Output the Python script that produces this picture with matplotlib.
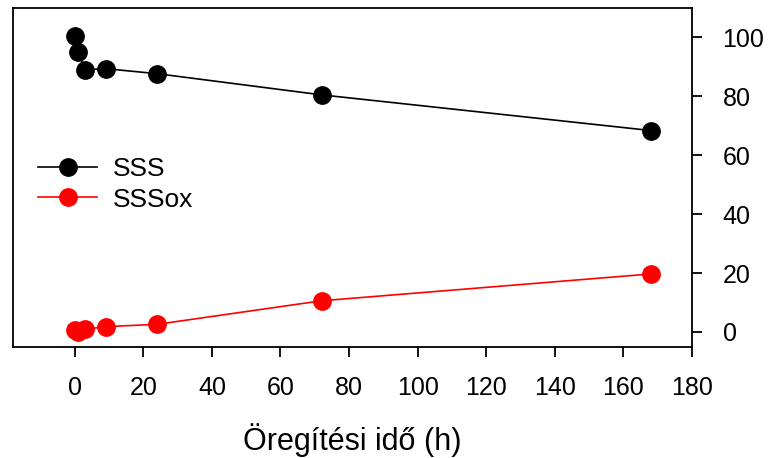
import matplotlib
matplotlib.use("Agg")
import matplotlib.pyplot as plt

hours = [0, 1, 3, 9, 24, 72, 168]
sss = [100.6, 95.2, 89.0, 89.4, 87.7, 80.5, 68.4]
sssox = [0.6, 0.0, 0.9, 1.8, 2.6, 10.6, 19.7]
xticks = list(range(0, 181, 20))
yticks = list(range(0, 101, 20))
xlabel = "Öregítési idő (h)"

plt.rcParams['font.family'] = ['Liberation Sans', 'DejaVu Sans']

fig = plt.figure(figsize=(7.71, 4.58), dpi=100)
ax = fig.add_axes([13/771, 1-347/458, 679/771, 339/458])

ax.plot(hours, sss, color='black', lw=1.2, marker='o', ms=12.5, label='SSS')
ax.plot(hours, sssox, color='#ff0000', lw=1.2, marker='o', ms=12.5, label='SSSox')

ax.set_xlim(-18, 180)
ax.set_ylim(-5.1, 110)
ax.set_xticks(xticks)
ax.set_yticks(yticks)
ax.yaxis.tick_right()
for s in ax.spines.values():
    s.set_linewidth(1.3)
ax.tick_params(axis='both', direction='out', length=7, width=1.3, labelsize=18)
ax.tick_params(axis='x', pad=14)
ax.tick_params(axis='y', pad=15)

leg = ax.legend(loc='center left', bbox_to_anchor=(0.037, 0.48), frameon=False,
                fontsize=19, handlelength=2.25, handletextpad=0.6,
                labelspacing=0.25, borderpad=0, borderaxespad=0)

fig.text((13 + 679/2)/771, 1-450/458, xlabel, ha='center', va='baseline', fontsize=22)

fig.savefig("out.png", dpi=100)
